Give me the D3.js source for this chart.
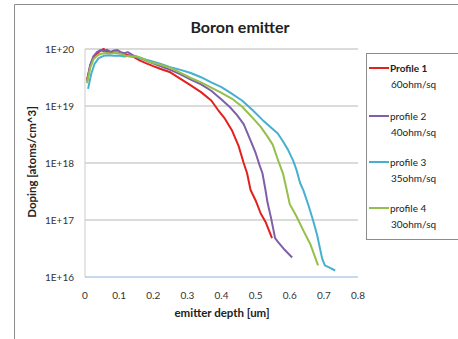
<!DOCTYPE html>
<html><head><meta charset="utf-8">
<script src="https://cdn.jsdelivr.net/npm/d3@7"></script>
<style>body{margin:0;background:#fff}svg{display:block}</style>
</head><body>
<script>
// ---- data ----
const title = "Boron emitter";
const xLabel = "emitter depth [um]";
const yLabel = "Doping [atoms/cm^3]";
const xTicks = [0, 0.1, 0.2, 0.3, 0.4, 0.5, 0.6, 0.7, 0.8];
const yTicks = [1e16, 1e17, 1e18, 1e19, 1e20];
const yTickLabels = ["1E+16", "1E+17", "1E+18", "1E+19", "1E+20"];
const seriesNames = ["Profile 1", "profile 2", "profile 3", "profile 4"];
const seriesSub = ["60ohm/sq", "40ohm/sq", "35ohm/sq", "30ohm/sq"];
const seriesColors = ["#e3211c", "#7f5fa8", "#45b0cf", "#94bf4a"];

const p1Depth = [0.006,0.015,0.025,0.035,0.045,0.055,0.065,0.075,0.09,0.105,0.12,0.14,0.16,0.18,0.2,0.22,0.25,0.28,0.31,0.34,0.37,0.39,0.41,0.43,0.45,0.465,0.475,0.485,0.5,0.515,0.53,0.548];
const p1Dop = [2.9e19,5.0e19,7.2e19,8.3e19,9.3e19,1.0e20,8.9e19,8.6e19,8.8e19,8.5e19,8.0e19,7.4e19,6.3e19,5.6e19,5.0e19,4.5e19,3.9e19,3.0e19,2.3e19,1.75e19,1.25e19,8.5e18,6.0e18,3.8e18,2.0e18,1.0e18,6.6e17,3.4e17,2.2e17,1.3e17,9.0e16,4.8e16];

const p2Depth = [0.006,0.015,0.025,0.035,0.045,0.055,0.065,0.075,0.085,0.095,0.105,0.115,0.125,0.14,0.16,0.19,0.22,0.25,0.28,0.31,0.34,0.37,0.40,0.425,0.445,0.465,0.485,0.5,0.512,0.52,0.528,0.535,0.545,0.557,0.566,0.585,0.607];
const p2Dop = [2.7e19,5.2e19,7.5e19,8.8e19,9.6e19,9.1e19,9.7e19,8.9e19,9.4e19,9.6e19,8.8e19,8.4e19,8.8e19,7.8e19,7.0e19,5.9e19,5.0e19,4.3e19,3.6e19,2.9e19,2.4e19,1.85e19,1.3e19,9.5e18,7.0e18,4.8e18,2.5e18,1.5e18,9.0e17,6.6e17,3.6e17,2.0e17,1.1e17,4.8e16,4.1e16,3.0e16,2.2e16];

const p3Depth = [0.009,0.018,0.028,0.04,0.055,0.07,0.085,0.1,0.115,0.13,0.15,0.17,0.19,0.22,0.25,0.28,0.31,0.34,0.37,0.40,0.43,0.46,0.49,0.52,0.545,0.565,0.58,0.595,0.61,0.62,0.63,0.64,0.655,0.668,0.68,0.695,0.703,0.718,0.733];
const p3Dop = [2.0e19,3.6e19,5.5e19,6.9e19,7.6e19,7.8e19,7.6e19,7.7e19,7.4e19,7.6e19,7.2e19,6.7e19,6.2e19,5.5e19,4.8e19,4.3e19,3.8e19,3.2e19,2.6e19,2.15e19,1.65e19,1.25e19,8.6e18,5.7e18,4.2e18,3.3e18,2.4e18,1.7e18,1.1e18,7.5e17,4.5e17,3.3e17,1.8e17,1.0e17,5.5e16,2.1e16,1.6e16,1.45e16,1.3e16];

const p4Depth = [0.006,0.015,0.025,0.035,0.045,0.06,0.075,0.09,0.105,0.12,0.135,0.15,0.17,0.19,0.22,0.25,0.28,0.31,0.34,0.37,0.40,0.43,0.46,0.49,0.515,0.535,0.55,0.565,0.58,0.59,0.6,0.62,0.64,0.66,0.683];
const p4Dop = [2.5e19,4.6e19,6.6e19,7.6e19,8.2e19,8.5e19,8.3e19,8.7e19,8.2e19,7.6e19,7.3e19,7.5e19,6.8e19,5.9e19,5.3e19,4.7e19,3.8e19,3.1e19,2.6e19,2.1e19,1.7e19,1.35e19,9.8e18,6.3e18,4.3e18,2.9e18,2.1e18,1.15e18,6.6e17,3.6e17,1.9e17,1.15e17,6.5e16,3.8e16,1.6e16];

const depths = [p1Depth, p2Depth, p3Depth, p4Depth];
const dops = [p1Dop, p2Dop, p3Dop, p4Dop];

// ---- drawing ----
const W = 458, H = 339;
const font = "Lato, 'Open Sans', sans-serif";
const svg = d3.select("body").append("svg").attr("width", W).attr("height", H);

// outer frame
svg.append("path").attr("d", "M14.5,339 V4.5 H458").attr("fill", "none").attr("stroke", "#8c8c8c").attr("stroke-width", 1);

const x = d3.scaleLinear().domain([0, 0.8]).range([85, 358]);
const y = d3.scaleLog().domain([1e16, 1e20]).range([277, 49]);

// gridlines
const g = svg.append("g");
g.selectAll("line.grid").data(yTicks.slice(1)).join("line")
  .attr("x1", x(0)).attr("x2", x(0.8))
  .attr("y1", d => y(d)).attr("y2", d => y(d))
  .attr("stroke", "#cfcfcf").attr("stroke-width", 1.5);
// left plot border
g.append("line").attr("x1", x(0)).attr("x2", x(0)).attr("y1", y(1e20)).attr("y2", y(1e16))
  .attr("stroke", "#d4d4d4").attr("stroke-width", 1.2);
// bottom axis line
g.append("line").attr("x1", x(0)).attr("x2", x(0.8)).attr("y1", y(1e16)).attr("y2", y(1e16))
  .attr("stroke", "#8eb4e0").attr("stroke-width", 1.2);

// y tick labels
svg.selectAll("text.yt").data(yTicks).join("text")
  .attr("x", 74).attr("y", d => y(d)).attr("dy", "0.35em")
  .attr("text-anchor", "end").attr("font-family", font).attr("font-size", 10).attr("fill", "#333")
  .text((d, i) => yTickLabels[i]);

// x tick labels
svg.selectAll("text.xt").data(xTicks).join("text")
  .attr("x", d => x(d)).attr("y", 295).attr("dy", "0.35em")
  .attr("text-anchor", "middle").attr("font-family", font).attr("font-size", 10).attr("fill", "#333")
  .text(d => d === 0 ? "0" : d3.format(".1f")(d));

// series lines
const line = d3.line().x(d => x(d[0])).y(d => y(d[1]));
depths.forEach((dx, i) => {
  const pts = dx.map((v, j) => [v, dops[i][j]]);
  svg.append("path").datum(pts).attr("d", line)
    .attr("fill", "none").attr("stroke", seriesColors[i]).attr("stroke-width", 2)
    .attr("stroke-linejoin", "round");
});

// title
svg.append("text").attr("x", 240).attr("y", 27).attr("dy", "0.35em").attr("text-anchor", "middle")
  .attr("font-family", font).attr("font-size", 16).attr("font-weight", "bold").attr("fill", "#222").text(title);

// axis titles
svg.append("text").attr("x", 222).attr("y", 313).attr("dy", "0.35em").attr("text-anchor", "middle")
  .attr("font-family", font).attr("font-size", 11.5).attr("font-weight", "bold").attr("fill", "#222").text(xLabel);
svg.append("text").attr("transform", "translate(32,162) rotate(-90)").attr("dy", "0.35em").attr("text-anchor", "middle")
  .attr("font-family", font).attr("font-size", 11.5).attr("font-weight", "bold").attr("fill", "#222").text(yLabel);

// legend
const lg = svg.append("g");
lg.append("rect").attr("x", 366.5).attr("y", 53.5).attr("width", 100).attr("height", 186)
  .attr("fill", "#fff").attr("stroke", "#8c8c8c").attr("stroke-width", 1);
const rowY = [68, 116, 162, 208];
seriesNames.forEach((n, i) => {
  lg.append("line").attr("x1", 369).attr("x2", 389).attr("y1", rowY[i]).attr("y2", rowY[i])
    .attr("stroke", seriesColors[i]).attr("stroke-width", 2);
  lg.append("text").attr("x", 390).attr("y", rowY[i]).attr("dy", "0.35em")
    .attr("font-family", font).attr("font-size", 10).attr("fill", "#222")
    .attr("font-weight", i === 0 ? "bold" : "normal").text(n);
  lg.append("text").attr("x", 391).attr("y", rowY[i] + 16).attr("dy", "0.35em")
    .attr("font-family", font).attr("font-size", 10).attr("fill", "#222").text(seriesSub[i]);
});
</script>
</body></html>
